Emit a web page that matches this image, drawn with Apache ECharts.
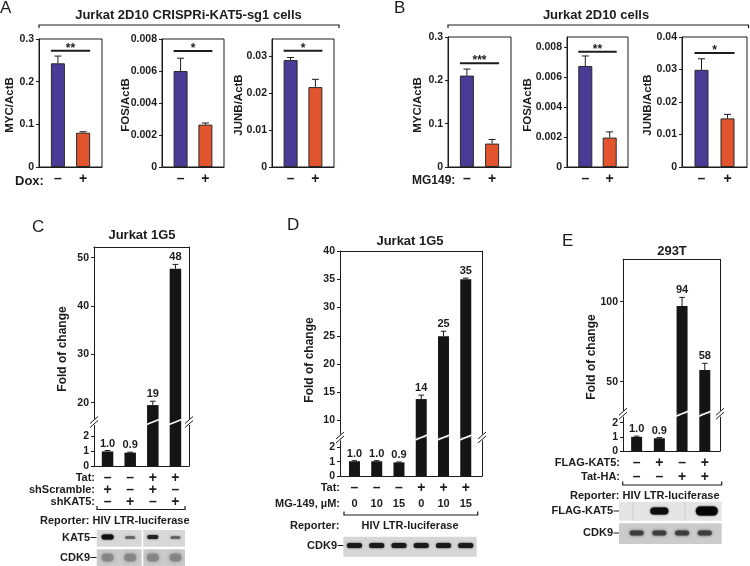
<!DOCTYPE html>
<html><head><meta charset="utf-8">
<script src="https://cdn.jsdelivr.net/npm/echarts@6/dist/echarts.min.js"></script>
<style>html,body{margin:0;padding:0;background:#fff}#main{width:750px;height:566px}</style>
</head><body><div id="main"></div>
<script>
// ================= DATA =================
const signCats = ['–', '+'];
// Panel A – Jurkat 2D10 CRISPRi-KAT5-sg1 cells (Dox – / +)
const aMyc = [0.243, 0.0804], aMycErr = [0.260, 0.0827];
const aFos = [0.0060, 0.00265], aFosErr = [0.0068, 0.00275];
const aJunb = [0.0289, 0.0216], aJunbErr = [0.0296, 0.0237];
const aSig = ['**', '*', '*'];
const aSigLevel = [0.2726, 0.00725, 0.0314];
// Panel B – Jurkat 2D10 cells (MG149 – / +)
const bMyc = [0.211, 0.054], bMycErr = [0.226, 0.0635];
const bFos = [0.00676, 0.00197], bFosErr = [0.00743, 0.00235];
const bJunb = [0.0299, 0.01496], bJunbErr = [0.0333, 0.0162];
const bSig = ['***', '**', '*'];
const bSigLevel = [0.2397, 0.00772, 0.0351];
// tick label lists
const ticksMyc = [0, 0.1, 0.2, 0.3];
const ticksFos = [0, 0.002, 0.004, 0.006, 0.008];
const ticksJunbA = [0, 0.01, 0.02, 0.03];
const ticksJunbB = [0, 0.01, 0.02, 0.03, 0.04];
// Panel C – Jurkat 1G5
const cVals = [0.97, 0.89, 19.5, 47.7];
const cErr = [1.03, 0.92, 20.3, 48.6];
const cLabels = ['1.0', '0.9', '19', '48'];
const cTat = ['–', '–', '+', '+'];
const cShScramble = ['+', '–', '+', '–'];
const cShKat5 = ['–', '+', '–', '+'];
const cTicksUp = [20, 30, 40, 50], cTicksLow = [0, 1, 2];
// Panel D – Jurkat 1G5
const dVals = [1.03, 1.03, 0.95, 13.8, 24.9, 35.0];
const dErr = [1.07, 1.07, 0.98, 14.5, 25.8, 35.2];
const dLabels = ['1.0', '1.0', '0.9', '14', '25', '35'];
const dTat = ['–', '–', '–', '+', '+', '+'];
const dMg149 = ['0', '10', '15', '0', '10', '15'];
const dTicksUp = [10, 15, 20, 25, 30, 35, 40], dTicksLow = [0, 1, 2];
// Panel E – 293T
const eVals = [1.0, 0.9, 97.3, 57.3];
const eErr = [1.05, 0.95, 102.7, 61.5];
const eLabels = ['1.0', '0.9', '94', '58'];
const eFlagKat5 = ['–', '+', '–', '+'];
const eTatHA = ['–', '–', '+', '+'];
const eTicksUp = [50, 100], eTicksLow = [0, 1, 2];

// ================= STYLE =================
const BLUE = '#4a3b96', ORANGE = '#e2542d', INK = '#1c1c1c', BARK = '#151515';
const FF = '"Liberation Sans", Arial, Helvetica, sans-serif';
const fmt = v => String(+(+v).toFixed(6));

const grids = [], xAxes = [], yAxes = [], series = [];
function addGrid(r) { grids.push(Object.assign({ show: false, containLabel: false, outerBoundsMode: 'none' }, r)); return grids.length - 1; }
const lineStyle = { color: INK, width: 1 };

function errSeries(xi, yi, vals, errs, bw, labels) {
  return {
    type: 'custom', xAxisIndex: xi, yAxisIndex: yi, clip: true, silent: true, z: 3,
    encode: { x: 0, y: 2 },
    data: vals.map((v, i) => [i, v, errs[i]]),
    renderItem(params, api) {
      const i = api.value(0), v = api.value(1), e = api.value(2);
      const cs = params.coordSys;
      const p0 = api.coord([i, v]), p1 = api.coord([i, e]);
      if (p1[1] > cs.y + cs.height - 0.5 || p0[1] < cs.y + 0.5) return { type: 'group', children: [] };
      const cw = bw * 0.5;
      const ch = [
        { type: 'line', shape: { x1: p0[0], y1: p0[1], x2: p1[0], y2: p1[1] }, style: { stroke: INK, lineWidth: 1 } },
        { type: 'line', shape: { x1: p1[0] - cw / 2, y1: p1[1], x2: p1[0] + cw / 2, y2: p1[1] }, style: { stroke: INK, lineWidth: 1 } }
      ];
      if (labels) ch.push({ type: 'text', x: p1[0], y: p1[1] - 7, style: { text: labels[i], font: 'bold 11px ' + FF, fill: INK, textAlign: 'center', textVerticalAlign: 'middle', align: 'center', verticalAlign: 'middle' } });
      return { type: 'group', children: ch };
    }
  };
}
function sigSeries(xi, yi, level, text, bw) {
  return {
    type: 'custom', xAxisIndex: xi, yAxisIndex: yi, silent: true, z: 3,
    encode: { x: [0, 1], y: 2 },
    data: [[0, 1, level]],
    renderItem(params, api) {
      const a = api.coord([api.value(0), api.value(2)]), b = api.coord([api.value(1), api.value(2)]);
      return { type: 'group', children: [
        { type: 'line', shape: { x1: a[0] - bw / 2, y1: a[1], x2: b[0] + bw / 2, y2: a[1] }, style: { stroke: INK, lineWidth: 2 } },
        { type: 'text', x: (a[0] + b[0]) / 2, y: a[1] - 2, style: { text, font: 'bold 12px ' + FF, fill: INK, textAlign: 'center', textVerticalAlign: 'middle', align: 'center', verticalAlign: 'middle' } }
      ] };
    }
  };
}

function smallPanel(rect, yMax, ticks, vals, errs, sig, sigLevel) {
  const g = addGrid(Object.assign({ show: true, borderColor: INK, borderWidth: 1 }, rect));
  const xi = xAxes.length;
  xAxes.push({ type: 'value', gridIndex: g, min: -0.75, max: 1.75,
    axisLine: { show: true, onZero: false, lineStyle }, axisTick: { show: false }, splitLine: { show: false },
    axisLabel: { customValues: [0, 1], formatter: v => signCats[Math.round(v)], fontSize: 14, fontWeight: 'bold', fontFamily: FF, color: INK, margin: 5 } });
  const yi = yAxes.length;
  yAxes.push({ type: 'value', gridIndex: g, min: 0, max: yMax,
    axisLine: { show: true, onZero: false, lineStyle }, splitLine: { show: false },
    axisTick: { show: true, length: 3, customValues: ticks, lineStyle },
    axisLabel: { customValues: ticks, formatter: fmt, fontSize: 10.5, fontWeight: 'bold', fontFamily: FF, color: INK, margin: 5 } });
  series.push({ type: 'bar', xAxisIndex: xi, yAxisIndex: yi, barWidth: 14, silent: true, z: 2,
    data: vals.map((v, i) => ({ value: [i, v], itemStyle: { color: i ? ORANGE : BLUE } })),
    itemStyle: { borderColor: '#2a2a2a', borderWidth: 1 } });
  series.push(errSeries(xi, yi, vals, errs, 14, null));
  series.push(sigSeries(xi, yi, sigLevel, sig, 14));
}

smallPanel({ left: 39, top: 39, width: 63, height: 128 }, 0.3, ticksMyc, aMyc, aMycErr, aSig[0], aSigLevel[0]);
smallPanel({ left: 162, top: 39, width: 62, height: 128 }, 0.008, ticksFos, aFos, aFosErr, aSig[1], aSigLevel[1]);
smallPanel({ left: 272, top: 39, width: 62, height: 128 }, 0.0346, ticksJunbA, aJunb, aJunbErr, aSig[2], aSigLevel[2]);
smallPanel({ left: 448, top: 37, width: 63, height: 130 }, 0.3, ticksMyc, bMyc, bMycErr, bSig[0], bSigLevel[0]);
smallPanel({ left: 567, top: 37, width: 61, height: 130 }, 0.0087, ticksFos, bFos, bFosErr, bSig[1], bSigLevel[1]);
smallPanel({ left: 682, top: 37, width: 65, height: 130 }, 0.04, ticksJunbB, bJunb, bJunbErr, bSig[2], bSigLevel[2]);

const big = [];
function bigPanel(c) {
  const gU = addGrid({ left: c.left, top: c.top, width: c.width, height: c.breakY - c.top });
  const gL = addGrid({ left: c.left, top: c.breakY, width: c.width, height: c.bottom - c.breakY });
  const xU = xAxes.length;
  xAxes.push({ type: 'value', gridIndex: gU, min: c.xMin, max: c.xMax, show: false });
  xAxes.push({ type: 'value', gridIndex: gU, min: c.xMin, max: c.xMax, position: 'top', axisLine: { show: true, onZero: false, lineStyle }, axisTick: { show: false }, axisLabel: { show: false }, splitLine: { show: false } });
  const xL = xAxes.length;
  xAxes.push({ type: 'value', gridIndex: gL, min: c.xMin, max: c.xMax, axisLine: { show: true, onZero: false, lineStyle }, axisTick: { show: false }, axisLabel: { show: false }, splitLine: { show: false } });
  const yU = yAxes.length;
  const yLab = { fontSize: 10.5, fontWeight: 'bold', fontFamily: FF, color: INK, margin: 5, formatter: fmt };
  yAxes.push({ type: 'value', gridIndex: gU, min: c.upMin, max: c.upMax, axisLine: { show: true, onZero: false, lineStyle }, splitLine: { show: false },
    axisTick: { show: true, length: 3, customValues: c.upTicks, lineStyle }, axisLabel: Object.assign({ customValues: c.upTicks }, yLab) });
  yAxes.push({ type: 'value', gridIndex: gU, position: 'right', min: c.upMin, max: c.upMax, axisLine: { show: true, onZero: false, lineStyle }, axisTick: { show: false }, axisLabel: { show: false }, splitLine: { show: false } });
  const yL = yAxes.length;
  yAxes.push({ type: 'value', gridIndex: gL, min: 0, max: c.lowMax, axisLine: { show: true, onZero: false, lineStyle }, splitLine: { show: false },
    axisTick: { show: true, length: 3, customValues: c.lowTicks, lineStyle }, axisLabel: Object.assign({ customValues: c.lowTicks }, yLab) });
  yAxes.push({ type: 'value', gridIndex: gL, position: 'right', min: 0, max: c.lowMax, axisLine: { show: true, onZero: false, lineStyle }, axisTick: { show: false }, axisLabel: { show: false }, splitLine: { show: false } });
  [[xU, yU], [xL, yL]].forEach(([xi, yi]) => {
    series.push({ type: 'bar', xAxisIndex: xi, yAxisIndex: yi, barWidth: c.bw, silent: true, z: 2, clip: true,
      data: c.vals.map((v, i) => [i, v]), itemStyle: { color: BARK } });
    series.push(errSeries(xi, yi, c.vals, c.errs, c.bw, c.labels));
  });
  big.push(Object.assign({ xU, yU, xL, yL }, c));
}
bigPanel({ left: 94, width: 95, top: 247, breakY: 422, bottom: 466, upMin: 16, upMax: 52.2, lowMax: 2.93,
  upTicks: cTicksUp, lowTicks: cTicksLow, xMin: -0.6, xMax: 3.6, bw: 11.5, vals: cVals, errs: cErr, labels: cLabels });
bigPanel({ left: 340, width: 142, top: 251, breakY: 437.5, bottom: 476, upMin: 7, upMax: 40, lowMax: 2.69,
  upTicks: dTicksUp, lowTicks: dTicksLow, xMin: -0.65, xMax: 5.73, bw: 11, vals: dVals, errs: dErr, labels: dLabels });
bigPanel({ left: 623, width: 97, top: 259.3, breakY: 413.7, bottom: 451, upMin: 30, upMax: 126.5, lowMax: 2.64,
  upTicks: eTicksUp, lowTicks: eTicksLow, xMin: -0.6, xMax: 3.67, bw: 11, vals: eVals, errs: eErr, labels: eLabels });

const chart = echarts.init(document.getElementById('main'), null, { renderer: 'canvas' });
chart.setOption({ animation: false, backgroundColor: '#fff', grid: grids, xAxis: xAxes, yAxis: yAxes, series });

// ================= ANNOTATION GRAPHICS =================
const G = [];
function T(x, y, text, font, align, rot) {
  G.push({ type: 'text', x, y, z: 100, rotation: rot || 0, silent: true,
    style: { text, font, fill: INK, textAlign: align || 'left', textVerticalAlign: 'middle', align: align || 'left', verticalAlign: 'middle' } });
}
function L(x1, y1, x2, y2, color, w) { G.push({ type: 'line', z: 100, silent: true, shape: { x1, y1, x2, y2 }, style: { stroke: color || INK, lineWidth: w || 1 } }); }
function PL(points, w) { G.push({ type: 'polyline', z: 100, silent: true, shape: { points }, style: { stroke: INK, fill: null, lineWidth: w || 1.2 } }); }
function R(x, y, w, h, fill, z) { G.push({ type: 'rect', z: z || 90, silent: true, shape: { x, y, width: w, height: h }, style: { fill } }); }
function band(cx, cy, w, h, color, blur, op) {
  G.push({ type: 'rect', z: 95, silent: true, shape: { x: cx - w / 2, y: cy - h / 2, width: w, height: h, r: h / 2 },
    style: { fill: color, shadowBlur: blur, shadowColor: color, opacity: op == null ? 1 : op } });
}
const B11 = 'bold 11px ' + FF, B12 = 'bold 12px ' + FF, B13 = 'bold 13px ' + FF, B14 = 'bold 14px ' + FF;
const LET = '17px ' + FF;

// panel letters and titles
T(0, 8, 'A', LET); T(394, 8, 'B', LET); T(32, 227, 'C', LET); T(287, 225, 'D', LET); T(562, 241, 'E', LET);
T(188.5, 15, 'Jurkat 2D10 CRISPRi-KAT5-sg1 cells', B13, 'center');
T(596, 15, 'Jurkat 2D10 cells', B13, 'center');
PL([[39, 28], [39, 25], [339, 25], [339, 28]]);
PL([[448, 28], [448, 25], [748.5, 25], [748.5, 28]]);
// y titles A/B
[[10, 'MYC/ActB'], [126, 'FOS/ActB'], [239, 'JUNB/ActB'], [417.5, 'MYC/ActB'], [527.5, 'FOS/ActB'], [647.5, 'JUNB/ActB']]
  .forEach(([x, s]) => T(x, 105, s, 'bold 11.5px ' + FF, 'center', Math.PI / 2));
T(15, 181, 'Dox:', B13); T(412, 181, 'MG149:', B12);

// big panels
const titles = [['Jurkat 1G5', 142, 235], ['Jurkat 1G5', 410, 241], ['293T', 672, 251]];
const foldPos = [[63, 349], [310, 360], [592, 357]];
big.forEach((c, k) => {
  T(titles[k][1], titles[k][2], titles[k][0], B13, 'center');
  T(foldPos[k][0], foldPos[k][1], 'Fold of change', B12, 'center', Math.PI / 2);
  const xl = c.left, xr = c.left + c.width, yb = c.breakY;
  [xl, xr].forEach(x => {
    R(x - 2, yb - 3, 4, 6, '#fff', 99);
    L(x - 4, yb - 2 + 3.5, x + 4, yb - 2 - 3.5); L(x - 4, yb + 2 + 3.5, x + 4, yb + 2 - 3.5);
  });
  c.vals.forEach((v, i) => {
    if (v > c.upMin) {
      const cx = chart.convertToPixel({ xAxisIndex: c.xL }, i);
      L(cx - c.bw / 2 - 0.5, yb + 2.5, cx + c.bw / 2 + 0.5, yb - 2.5, '#fff', 1.5);
    }
  });
});
function lanes(c) { return c.vals.map((v, i) => chart.convertToPixel({ xAxisIndex: c.xL }, i)); }
function rows(c, labelRight, defs) {
  const lx = lanes(c);
  defs.forEach(([label, vals, y, font]) => {
    T(labelRight, y, label, B11, 'right');
    vals.forEach((s, i) => T(lx[i], y, s, font || B14, 'center'));
  });
}
// Panel C rows & blots
const C = big[0], D = big[1], E = big[2];
rows(C, 95, [['Tat:', cTat, 478], ['shScramble:', cShScramble, 490], ['shKAT5:', cShKat5, 502]]);
PL([[97, 506], [97, 509.5], [185, 509.5], [185, 506]]);
T(40, 521, 'Reporter: HIV LTR-luciferase', B11);
{
  const lx = lanes(C);
  R(96.7, 530, 45, 16.7, '#d8d8d8'); R(143.3, 530, 41.7, 16.7, '#d8d8d8');
  R(96.7, 549.3, 45, 17, '#cbcbcb'); R(143.3, 549.3, 41.7, 17, '#cbcbcb');
  band(lx[0], 537, 12, 5, '#111', 2, 1); band(lx[1], 537.5, 10, 3, '#555', 2, 0.7);
  band(lx[2], 537, 11, 4, '#222', 2, 1); band(lx[3], 537.5, 10, 3, '#555', 2, 0.7);
  lx.forEach(x => band(x, 557.5, 12, 8, '#808080', 4, 0.8));
  T(90, 537.5, 'KAT5', B11, 'right'); L(90.5, 537.5, 96.5, 537.5);
  T(90, 557.5, 'CDK9', B11, 'right'); L(90.5, 557.5, 96.5, 557.5);
}
// Panel D rows & blot
rows(D, 340, [['Tat:', dTat, 488.3], ['MG-149, µM:', dMg149, 504, B11]]);
PL([[344, 511.5], [344, 515], [477.7, 515], [477.7, 511.5]]);
T(290, 526, 'Reporter:', B11); T(410, 526, 'HIV LTR-luciferase', B11, 'center');
{
  const lx = lanes(D);
  R(343.3, 536.7, 133.4, 20, '#d6d6d6');
  lx.forEach(x => band(x, 545.5, 15, 5, '#1a1a1a', 2, 1));
  T(337, 545.5, 'CDK9', B11, 'right'); L(337.5, 545.5, 343.3, 545.5);
}
// Panel E rows & blots
rows(E, 620, [['FLAG-KAT5:', eFlagKat5, 463.3], ['Tat-HA:', eTatHA, 477.3]]);
PL([[622.7, 481.5], [622.7, 485], [721.7, 485], [721.7, 481.5]]);
T(570, 495.5, 'Reporter: HIV LTR-luciferase', B11);
{
  const lx = lanes(E);
  R(619, 501.7, 102.7, 19, '#e4e4e4');
  L(633, 501.7, 633, 520.7, '#cdcdcd'); L(685, 501.7, 685, 520.7, '#cdcdcd');
  band(lx[1], 511, 18, 7, '#0d0d0d', 2, 1); band(lx[3] + 2, 511, 22, 9, '#050505', 2, 1);
  R(619, 523.3, 102.7, 20.7, '#cbcbcb');
  lx.forEach(x => band(x, 533, 14, 5, '#3a3a3a', 3, 0.9));
  T(613, 511, 'FLAG-KAT5', B11, 'right'); L(613.5, 511, 619, 511);
  T(613, 533, 'CDK9', B11, 'right'); L(613.5, 533, 619, 533);
}
chart.setOption({ graphic: { elements: G } });
</script></body></html>
